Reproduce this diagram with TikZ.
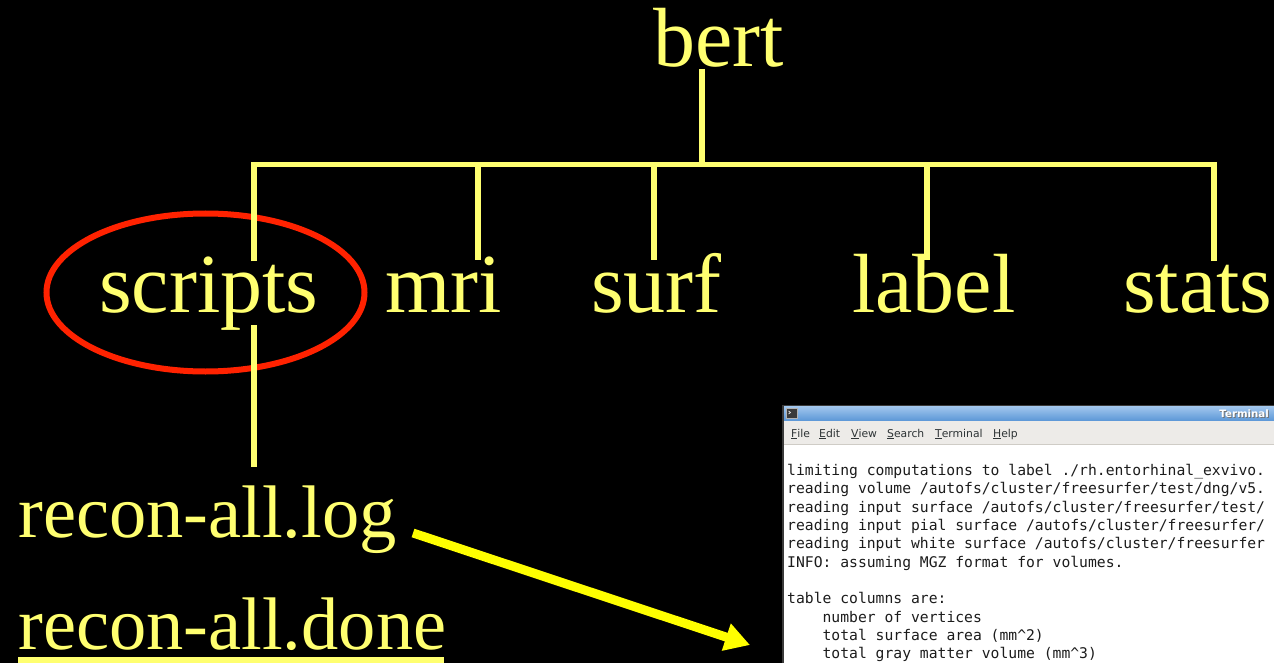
\documentclass[tikz,border=0pt]{standalone}
\usepackage{fontspec}
\setmainfont{Liberation Serif}
\newfontfamily\termmono{DejaVu Sans Mono}
\newfontfamily\uisans{DejaVu Sans}
\usetikzlibrary{arrows.meta,shapes.geometric}

\definecolor{treeyellow}{HTML}{FFFF70}
\definecolor{arrowyellow}{HTML}{FFFF00}
\definecolor{ringred}{HTML}{FF2200}
\definecolor{titletop}{HTML}{A8CBF0}
\definecolor{titlebottom}{HTML}{5A96D6}
\definecolor{menubg}{HTML}{EDEBE8}
\definecolor{menuline}{HTML}{CFCCC6}
\definecolor{menutext}{HTML}{2E3436}
\definecolor{termtext}{HTML}{1C1C1C}
\definecolor{frame}{HTML}{3A3A3A}

\tikzset{
  dirname/.style={inner sep=0pt, anchor=base west, text=treeyellow,
    font=\fontsize{84}{84}\selectfont},
  filename/.style={inner sep=0pt, anchor=base west, text=treeyellow,
    font=\fontsize{74.5}{74.5}\selectfont},
  branch/.style={draw=treeyellow, line width=5.5pt, line join=miter},
  pointer/.style={draw=arrowyellow, line width=9pt,
    -{Triangle[length=25pt,width=27pt]}},
  ring/.style={ellipse, draw=ringred, line width=6pt, inner sep=0pt},
  menuitem/.style={inner sep=0pt, anchor=base west, text=menutext,
    font=\uisans\fontsize{10.8}{12}\selectfont},
  termline/.style={inner sep=0pt, anchor=base west, text=termtext,
    font=\termmono\fontsize{14.7}{18}\selectfont}
}

\begin{document}
\begin{tikzpicture}[x=1pt,y=-1pt]
\useasboundingbox (0,0) rectangle (1274,663);
\fill[black] (0,0) rectangle (1274,663);

% highlight ring round the scripts directory
\node[ring, minimum width=318pt, minimum height=158pt] (hl) at (205.5,292.5) {};

% directory names
\node[dirname] (bert)    at (653,67)  {bert};
\node[dirname] (scripts) at (99,312)  {scripts};
\node[dirname] (mri)     at (385,312) {mri};
\node[dirname] (surf)    at (591,312) {surf};
\node[dirname] (label)   at (852,312) {label};
\node[dirname] (stats)   at (1123,312) {stats};

% files in scripts
\node[filename] (log)  at (18,537) {recon-all.log};
\node[filename] (done) at (18,649) {recon-all.done};
\fill[treeyellow] (done.base west |- 0,657) rectangle (444,666);

% tree connectors
\coordinate (stem)  at (702,69);
\coordinate (hub)   at (702,164.5);
\coordinate (jscr)  at (254,164.5);
\coordinate (jmri)  at (478,164.5);
\coordinate (jsurf) at (654,164.5);
\coordinate (jlab)  at (927,164.5);
\coordinate (jsta)  at (1214,164.5);
\coordinate (escr)  at (254,261);
\coordinate (emri)  at (478,260);
\coordinate (esurf) at (654,260);
\coordinate (elab)  at (927,260);
\coordinate (esta)  at (1214,261);
\coordinate (sdown) at (254,325);
\coordinate (slog)  at (254,467);

\draw[branch] (stem) -- (hub);
\draw[branch] (escr) -- (jscr) -- (jsta) -- (esta);
\draw[branch] (jmri) -- (emri);
\draw[branch] (jsurf) -- (esurf);
\draw[branch] (jlab) -- (elab);
\draw[branch] (sdown) -- (slog);

% terminal window
\begin{scope}
  \clip (782,405) rectangle (1274,663);
  \fill[white] (782,405) rectangle (1274,663);
  \shade[top color=titletop, bottom color=titlebottom] (782,405) rectangle (1274,421);
  \draw[frame, line width=1pt] (782,405.5) -- (1274,405.5);
  \fill[menubg] (782,421) rectangle (1274,444);
  \draw[menuline, line width=1pt] (782,444) -- (1274,444);
  \draw[frame, line width=2pt] (783,405) -- (783,663);
  % window icon
  \fill[frame] (786,408) rectangle (798,419);
  \draw[white!70!black, line width=0.6pt] (786.5,408.5) rectangle (797.5,418.5);
  \draw[white!85!black, line width=0.8pt] (788.5,411) -- (790.5,412.5) -- (788.5,414);
  % title
  \node[inner sep=0pt, anchor=base east, text=black!55,
    font=\uisans\bfseries\fontsize{10.2}{12}\selectfont] at (1270,418) {Terminal};
  \node[inner sep=0pt, anchor=base east, text=white,
    font=\uisans\bfseries\fontsize{10.2}{12}\selectfont] (ttl) at (1269,417) {Terminal};
  % menu bar
  \node[menuitem] (mfile) at (791,437) {\underline{F}ile};
  \node[menuitem] (medit) at (819,437) {\underline{E}dit};
  \node[menuitem] (mview) at (851,437) {\underline{V}iew};
  \node[menuitem] (msrch) at (887,437) {\underline{S}earch};
  \node[menuitem] (mterm) at (935,437) {\underline{T}erminal};
  \node[menuitem] (mhelp) at (993,437) {\underline{H}elp};
  % output
  \node[termline] (t1)  at (787,475.5) {limiting computations to label ./rh.entorhinal\textunderscore exvivo.};
  \node[termline] (t2)  at (787,493.8) {reading volume /autofs/cluster/freesurfer/test/dng/v5.};
  \node[termline] (t3)  at (787,512.2) {reading input surface /autofs/cluster/freesurfer/test/};
  \node[termline] (t4)  at (787,530.5) {reading input pial surface /autofs/cluster/freesurfer/};
  \node[termline] (t5)  at (787,548.8) {reading input white surface /autofs/cluster/freesurfer};
  \node[termline] (t6)  at (787,567.2) {INFO: assuming MGZ format for volumes.};
  \node[termline] (t7)  at (787,603.8) {table columns are:};
  \node[termline] (t8)  at (822.4,622.2) {number of vertices};
  \node[termline] (t9)  at (822.4,640.5) {total surface area (mm\textasciicircum 2)};
  \node[termline] (t10) at (822.4,658.8) {total gray matter volume (mm\textasciicircum 3)};
\end{scope}

% pointer from the log file to the terminal
\coordinate (tail) at (413,533);
\coordinate (tip)  at (750,645);
\draw[pointer] (tail) -- (tip);
\end{tikzpicture}
\end{document}
